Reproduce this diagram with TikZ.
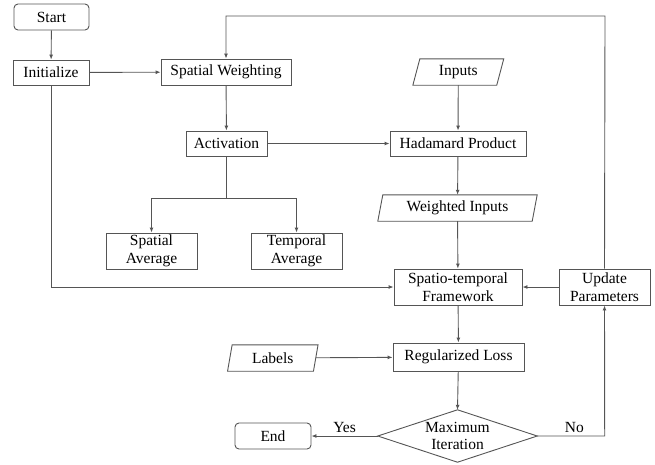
\documentclass[tikz,border=0pt]{standalone}
\usepackage{fontspec}
\setmainfont{Liberation Serif}
\usetikzlibrary{arrows.meta,calc}
\definecolor{ln}{HTML}{555555}
\begin{document}
\begin{tikzpicture}[x=1pt,y=-1pt,
  every node/.style={font=\fontsize{15.5}{17.5}\selectfont, align=center, inner sep=0pt},
  box/.style={draw=ln, line width=0.9pt, minimum width=#1, fill=white},
  rbox/.style={box=#1, rounded corners=4pt},
  shp/.style={draw=none, minimum width=#1},
  conn/.style={draw=ln, line width=0.9pt},
  arr/.style={conn, -{Latex[length=5pt,width=4pt]}},
  lbl/.style={font=\fontsize{15.5}{17.5}\selectfont}
]
\useasboundingbox (0,0) rectangle (655,464);
% nodes
\node[rbox=75, minimum height=26] (start) at (51.5,17) {Start};
\node[box=76, minimum height=25] (init) at (51,72.5) {Initialize};
\node[box=130, minimum height=26] (sw) at (226,72) {Spatial Weighting};
\node[box=81, minimum height=25] (act) at (226.5,143.5) {Activation};
\node[shp=83.5, minimum height=26] (inp) at (458.3,72) {Inputs};
\node[box=136, minimum height=25] (had) at (458,143.5) {Hadamard Product};
\node[shp=154, minimum height=26] (wi) at (457.5,208) {Weighted Inputs};
\node[box=91, minimum height=36] (sa) at (151.5,251) {Spatial\\Average};
\node[box=91, minimum height=36] (ta) at (296.5,251) {Temporal\\Average};
\node[box=128, minimum height=36] (stf) at (458,287) {Spatio-temporal\\Framework};
\node[box=91, minimum height=36] (up) at (604.5,287) {Update\\Parameters};
\node[box=131, minimum height=28] (rl) at (458.5,357) {Regularized Loss};
\node[shp=85.5, minimum height=26] (lab) at (272.8,358) {Labels};
\node[shp=159, minimum height=52] (dia) at (457.5,436) {Maximum\\Iteration};
\node[rbox=76, minimum height=26] (end) at (273,436) {End};
% parallelograms and diamond outlines
\draw[conn] ($(inp.north west)+(3.5,0)$) -- ($(inp.north east)+(3.5,0)$) -- ($(inp.south east)+(-3.5,0)$) -- ($(inp.south west)+(-3.5,0)$) -- cycle;
\draw[conn] ($(wi.north west)+(2.5,0)$) -- ($(wi.north east)+(2.5,0)$) -- ($(wi.south east)+(-2.5,0)$) -- ($(wi.south west)+(-2.5,0)$) -- cycle;
\draw[conn] ($(lab.north west)+(2.3,0)$) -- ($(lab.north east)+(2.3,0)$) -- ($(lab.south east)+(-2.3,0)$) -- ($(lab.south west)+(-2.3,0)$) -- cycle;
\draw[conn] (dia.north) -- (dia.east) -- (dia.south) -- (dia.west) -- cycle;
% connectors
\coordinate (br) at (226.5,198);
\coordinate (top) at (605,16);
\draw[arr] (start) -- (init);
\draw[arr] (init) -- (sw);
\draw[arr] (sw) -- (act);
\draw[arr] (act) -- (had);
\draw[arr] (inp) -- (had);
\draw[arr] (had) -- (wi);
\draw[conn] (act.south) -- (br);
\draw[arr] (br) -| (sa.north);
\draw[arr] (br) -| (ta.north);
\draw[arr] (wi) -- (stf);
\draw[arr] (init.south) |- (stf.west);
\draw[arr] (up) -- (stf);
\draw[arr] (up.north) -- (top) -| (sw.north);
\draw[arr] (stf) -- (rl);
\draw[arr] (lab) -- (rl);
\draw[arr] (rl) -- (dia.north);
\draw[arr] (dia.west) -- node[lbl, above=3pt] {Yes} (end.east);
\draw[arr] (dia.east) -- node[lbl, above=3pt, pos=0.55] {No} ++(67.5,0) -- (up.south);
\end{tikzpicture}
\end{document}
